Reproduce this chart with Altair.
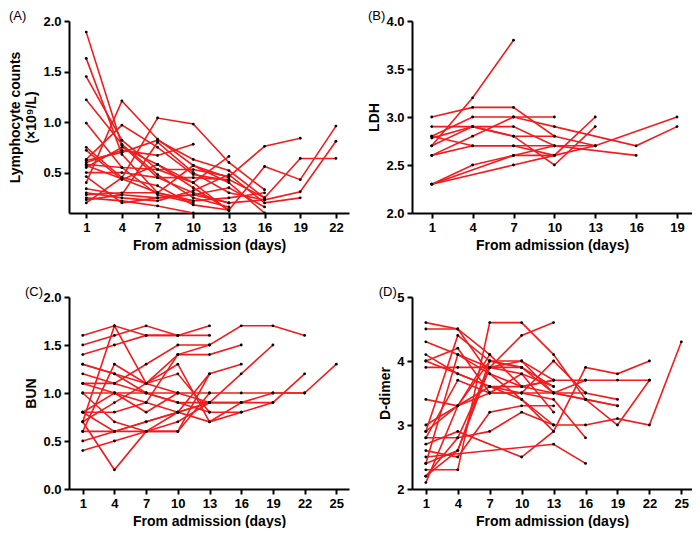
import altair as alt
import pandas as pd

# ---------------- (A) Lymphocyte counts ----------------
lymph_days = [
    [1, 4, 7, 10, 13], [1, 4, 7, 10], [1, 4, 7, 10, 13], [1, 4, 7, 10, 13],
    [1, 4, 7, 10], [1, 4, 7, 10, 13], [1, 4, 7, 10, 13], [1, 4, 7, 10, 13],
    [1, 4, 7, 10, 13, 16], [1, 4, 7, 10], [1, 4, 7, 10, 13, 16, 19],
    [1, 4, 7, 10, 13, 16, 19, 22], [1, 4, 7, 10, 13, 16, 19, 22],
    [1, 4, 7, 10, 13, 16, 19, 22], [1, 4, 7, 10, 13, 16, 19],
    [1, 4, 7, 10, 13, 16], [1, 4, 7, 10], [1, 4, 7, 10, 13, 16],
    [1, 4, 7, 10, 13, 16], [1, 4, 7, 10, 13], [1, 4, 7, 10, 13, 16],
    [1, 4, 7, 10, 13, 16],
]
lymph_vals = [
    [1.89, 0.77, 0.45, 0.30, 0.20], [1.63, 0.68, 0.30, 0.22],
    [1.45, 0.82, 0.53, 0.40, 0.12], [1.22, 0.78, 0.48, 0.25, 0.16],
    [0.99, 0.55, 0.28, 0.20], [0.75, 0.45, 0.37, 0.18, 0.13],
    [0.40, 1.21, 0.83, 0.57, 0.45], [0.63, 0.97, 0.75, 0.48, 0.42],
    [0.20, 0.45, 1.04, 0.98, 0.60, 0.33], [0.60, 0.72, 0.67, 0.78],
    [0.58, 0.55, 0.53, 0.53, 0.46, 0.76, 0.84],
    [0.72, 0.43, 0.58, 0.35, 0.13, 0.56, 0.43, 0.96],
    [0.50, 0.50, 0.45, 0.45, 0.43, 0.25, 0.64, 0.64],
    [0.34, 0.28, 0.25, 0.28, 0.20, 0.23, 0.31, 0.81],
    [0.30, 0.25, 0.22, 0.32, 0.48, 0.20, 0.25],
    [0.28, 0.30, 0.30, 0.22, 0.25, 0.30], [0.25, 0.22, 0.17, 0.10],
    [0.23, 0.28, 0.80, 0.50, 0.30, 0.23], [0.62, 0.70, 0.82, 0.63, 0.52, 0.25],
    [0.55, 0.75, 0.58, 0.40, 0.66], [0.46, 0.20, 0.25, 0.28, 0.35, 0.16],
    [0.57, 0.44, 0.30, 0.57, 0.40, 0.10],
]

# ---------------- (B) LDH ----------------
ldh_days = [
    [1, 4, 7], [1, 4, 7, 10, 13], [1, 4, 7, 10], [1, 4, 7, 10],
    [1, 4, 7, 10, 16, 19], [1, 4, 7, 10, 13, 19], [1, 4, 7, 10, 13],
    [1, 4, 7, 10, 13], [1, 7, 10, 13], [1, 7, 10], [1, 4, 7, 10, 16],
    [1, 4, 7, 10],
]
ldh_vals = [
    [2.7, 3.2, 3.8], [3.0, 3.1, 3.1, 2.8, 2.7], [2.8, 3.0, 3.0, 3.0],
    [2.9, 2.9, 2.8, 2.8], [2.6, 2.8, 3.0, 2.9, 2.7, 2.9],
    [2.8, 2.7, 2.7, 2.7, 2.7, 3.0], [2.7, 2.9, 2.8, 2.5, 2.9],
    [2.3, 2.5, 2.6, 2.6, 2.7], [2.3, 2.5, 2.6, 3.0], [2.3, 2.6, 2.7],
    [2.78, 2.9, 2.9, 2.7, 2.6], [2.6, 2.7, 2.7, 2.6],
]

# ---------------- (C) BUN ----------------
bun_days = [
    [1, 4, 7, 10, 13], [1, 4, 7, 10], [1, 4, 7, 10, 13],
    [1, 4, 7, 10, 13, 16, 19, 22], [1, 4, 7, 10, 13],
    [1, 4, 7, 10, 13, 16, 19, 22], [1, 4, 7, 10, 13, 16],
    [1, 4, 7, 10, 13, 16, 19, 22, 25], [1, 4, 7, 10, 13], [1, 4, 7, 10, 13],
    [1, 4, 7, 10, 13, 16], [1, 4, 7, 10, 13, 16, 19], [1, 4, 7, 10, 13],
    [1, 4, 7, 10, 13, 16], [1, 4, 7, 10, 13, 16, 19],
    [1, 4, 7, 10, 13, 16, 19, 22], [1, 4, 7, 10], [1, 4, 7, 10, 13, 16],
    [1, 4, 7, 10, 13], [1, 4, 7, 10, 13],
]
bun_vals = [
    [1.6, 1.7, 1.6, 1.6, 1.7], [1.5, 1.6, 1.7, 1.6], [1.4, 1.5, 1.6, 1.6, 1.6],
    [1.3, 1.2, 1.1, 1.0, 1.0, 1.0, 1.0, 1.0], [1.2, 1.1, 1.0, 0.9, 0.9],
    [1.1, 1.1, 1.3, 1.5, 1.5, 1.7, 1.7, 1.6], [1.0, 1.0, 1.0, 0.9, 0.8, 0.8],
    [0.8, 1.0, 0.9, 0.8, 0.9, 0.9, 1.0, 1.0, 1.3], [0.7, 1.7, 1.1, 1.2, 0.8],
    [0.6, 1.3, 1.1, 1.4, 1.5], [0.5, 0.6, 0.7, 0.8, 1.2, 1.3],
    [0.4, 0.5, 0.6, 0.7, 0.9, 1.2, 1.5], [0.7, 0.2, 0.6, 0.6, 1.2],
    [0.8, 0.8, 0.9, 1.4, 1.4, 1.5], [1.0, 0.7, 0.6, 0.8, 0.7, 0.8, 0.9],
    [0.6, 0.6, 0.7, 0.8, 0.9, 0.9, 0.9, 1.2], [1.1, 1.0, 0.8, 1.0],
    [0.7, 0.9, 1.1, 1.3, 0.7, 0.9], [1.3, 1.2, 1.0, 1.0, 0.9],
    [0.8, 0.6, 0.6, 0.6, 1.0],
]

# ---------------- (D) D-dimer ----------------
dd_days = [
    [1, 4, 7, 10, 13, 16, 19], [1, 4, 7, 10, 13], [1, 4, 7, 10, 13],
    [1, 4, 7, 10, 13], [1, 4, 7, 10, 13, 16], [1, 4, 7, 10, 13, 16],
    [1, 4, 7, 10, 13], [1, 4, 7, 10, 13, 16, 19],
    [1, 4, 7, 10, 13, 16, 19, 22], [1, 4, 7, 10, 13, 16, 19, 22, 25],
    [1, 4, 10, 13, 16, 19, 22], [1, 13, 16], [1, 4, 7, 10, 13, 16, 19],
    [1, 4, 7, 10, 13], [1, 4, 7, 10, 13, 16], [1, 4, 7, 10, 13],
    [1, 4, 7, 10, 13], [1, 4, 7, 10, 13], [1, 4, 7, 10, 13], [1, 4, 7, 10],
    [1, 4, 7], [1, 4, 7, 10, 13, 16, 19, 22],
]
dd_vals = [
    [4.6, 4.5, 4.1, 3.6, 3.5, 3.4, 3.3], [4.5, 4.5, 3.8, 3.6, 3.7],
    [4.3, 4.1, 3.9, 3.8, 3.6], [4.1, 3.8, 3.6, 3.4, 3.0],
    [4.0, 4.2, 3.5, 3.5, 3.4, 2.8], [3.9, 3.9, 3.9, 4.0, 3.7, 3.7],
    [3.4, 3.3, 3.6, 3.6, 3.7], [3.0, 3.3, 3.5, 3.5, 4.0, 3.5, 3.4],
    [2.9, 4.4, 4.0, 3.9, 3.5, 3.7, 3.7, 3.7],
    [2.8, 2.8, 2.9, 3.2, 3.0, 3.0, 3.1, 3.0, 4.3],
    [2.7, 2.9, 2.5, 2.9, 3.9, 3.8, 4.0], [2.5, 2.7, 2.4],
    [2.3, 2.3, 4.6, 4.6, 4.1, 3.4, 3.3], [2.2, 2.6, 3.9, 4.4, 4.6],
    [2.1, 3.3, 4.0, 4.0, 3.5, 3.5], [2.4, 4.1, 3.8, 3.4, 2.9],
    [2.6, 2.5, 3.2, 3.3, 3.3], [2.8, 3.7, 3.5, 3.8, 3.2],
    [2.2, 2.8, 3.9, 3.9, 3.6], [2.4, 2.6, 4.0, 3.9],
    [2.9, 3.3, 4.1], [4.0, 3.8, 3.6, 3.5, 3.5, 3.4, 3.0, 3.7],
]

FONT = "Liberation Sans"
XTITLE = "From admission (days)"


def to_frame(days, vals):
    rows = []
    for i, (d, v) in enumerate(zip(days, vals)):
        for dd, vv in zip(d, v):
            rows.append({"pid": i, "day": dd, "val": vv})
    return pd.DataFrame(rows)


def panel(days, vals, label, ytitle, xdom, xticks, ydom, yticks, yfmt):
    df = to_frame(days, vals)
    base = alt.Chart(df)
    x = alt.X("day:Q", scale=alt.Scale(domain=xdom, nice=False, zero=False),
              axis=alt.Axis(values=xticks, title=XTITLE, format="d"))
    y = alt.Y("val:Q", scale=alt.Scale(domain=ydom, nice=False, zero=False),
              axis=alt.Axis(values=yticks, title=ytitle, format=yfmt))
    lines = base.mark_line(color="#f21c1c", strokeWidth=1.6, clip=True).encode(
        x=x, y=y, detail="pid:N", order="day:Q")
    pts = base.mark_point(filled=True, color="black", size=8, opacity=1,
                          clip=True).encode(x=x, y=y)
    return alt.layer(lines, pts).properties(
        width=280, height=192,
        title=alt.TitleParams(label, anchor="start", frame="bounds", fontSize=13,
                              fontWeight="normal", font=FONT, color="black",
                              offset=-8))


pA = panel(lymph_days, lymph_vals, "(A)", ["Lymphocyte counts", "(×10⁹/L)"],
           [-0.45, 23.1], [1, 4, 7, 10, 13, 16, 19, 22], [0.1, 2.0],
           [0.5, 1.0, 1.5, 2.0], ".1f")
pB = panel(ldh_days, ldh_vals, "(B)", "LDH",
           [-0.45, 20.1], [1, 4, 7, 10, 13, 16, 19], [2.0, 4.0],
           [2.0, 2.5, 3.0, 3.5, 4.0], ".1f")
pC = panel(bun_days, bun_vals, "(C)", "BUN",
           [-0.3, 26.2], [1, 4, 7, 10, 13, 16, 19, 22, 25], [0.0, 2.0],
           [0.0, 0.5, 1.0, 1.5, 2.0], ".1f")
pD = panel(dd_days, dd_vals, "(D)", "D-dimer",
           [-0.3, 26.0], [1, 4, 7, 10, 13, 16, 19, 22, 25], [2, 5],
           [2, 3, 4, 5], "d")

chart = alt.concat(pA, pB, pC, pD, columns=2,
                   spacing={"row": 34, "column": 18}).properties(
    padding={"left": 0, "top": 2, "right": 0, "bottom": 0}
).configure_view(stroke=None).configure_axis(
    grid=False, domainColor="black", domainWidth=2, tickColor="black",
    tickWidth=2, tickSize=5, labelFont=FONT, labelFontSize=13,
    labelFontWeight="bold", labelColor="black", titleFont=FONT,
    titleFontSize=14, titleFontWeight="bold", titleColor="black",
    labelPadding=3,
)

chart.save("out.html", embed_options={"renderer": "svg", "actions": False})
